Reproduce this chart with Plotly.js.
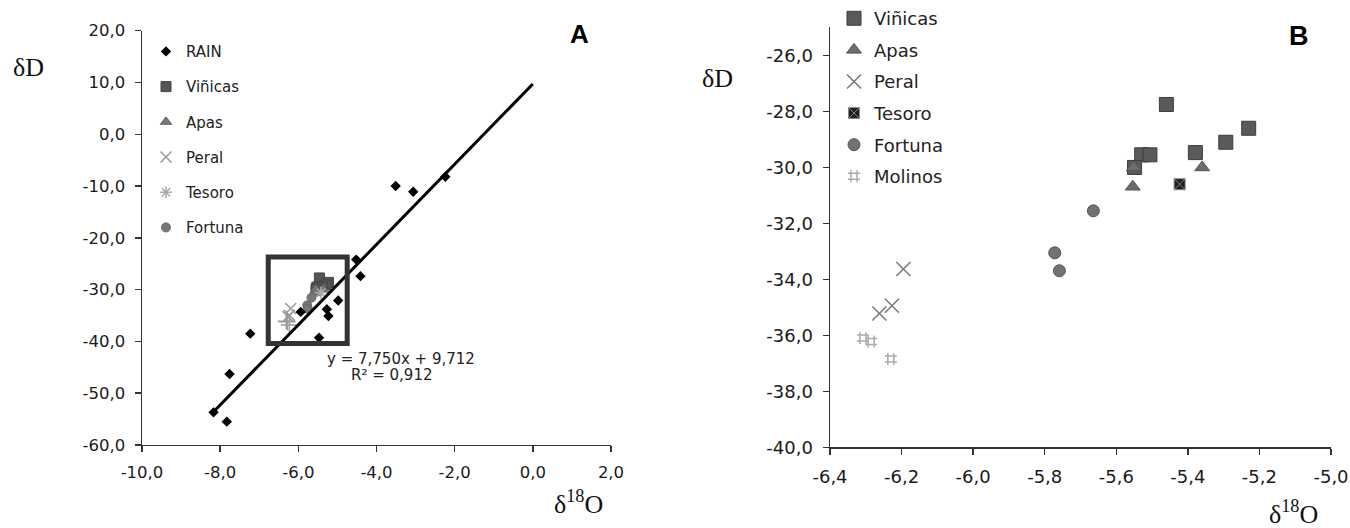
<!DOCTYPE html>
<html>
<head>
<meta charset="utf-8">
<script src="https://cdn.plot.ly/plotly-3.0.1.min.js"></script>
<style>html,body{margin:0;padding:0;background:#fff;}#chart{width:1350px;height:528px;}</style>
</head>
<body>
<div id="chart"></div>
<script>
// ---------- data ----------
const rainX = [-8.17, -7.83, -7.76, -7.23, -5.94, -5.47, -5.27, -5.23, -4.98, -4.52, -4.41, -3.51, -3.06, -2.24];
const rainY = [-53.7, -55.5, -46.3, -38.5, -34.3, -39.3, -33.8, -35.1, -32.1, -24.2, -27.4, -10.0, -11.1, -8.2];

const vinX = [-5.46, -5.23, -5.294, -5.379, -5.529, -5.506, -5.549];
const vinY = [-27.75, -28.60, -29.10, -29.47, -29.55, -29.55, -30.00];
const apasX = [-5.551, -5.554, -5.360];
const apasY = [-30.00, -30.69, -30.00];
const peralX = [-6.195, -6.227, -6.262];
const peralY = [-33.63, -34.94, -35.22];
const tesoroX = [-5.423];
const tesoroY = [-30.60];
const fortX = [-5.664, -5.772, -5.759];
const fortY = [-31.55, -33.05, -33.69];
const molX = [-6.308, -6.285, -6.230];
const molY = [-36.09, -36.22, -36.84];

// regression (as printed on the chart)
const slope = 7.750, intercept = 9.712, r2 = 0.912;
const fitX = [-8.2, 0.0];
const fitY = fitX.map(x => slope * x + intercept);

// highlighted region in panel A
const zoomBox = [-6.77, -4.75, -40.4, -23.7];

// ticks
const aXTicks = [-10, -8, -6, -4, -2, 0, 2];
const aXLabels = ['-10,0', '-8,0', '-6,0', '-4,0', '-2,0', '0,0', '2,0'];
const aYTicks = [-60, -50, -40, -30, -20, -10, 0, 10, 20];
const aYLabels = ['-60,0', '-50,0', '-40,0', '-30,0', '-20,0', '-10,0', '0,0', '10,0', '20,0'];
const bXTicks = [-6.4, -6.2, -6.0, -5.8, -5.6, -5.4, -5.2, -5.0];
const bXLabels = ['-6,4', '-6,2', '-6,0', '-5,8', '-5,6', '-5,4', '-5,2', '-5,0'];
const bYTicks = [-40, -38, -36, -34, -32, -30, -28, -26];
const bYLabels = ['-40,0', '-38,0', '-36,0', '-34,0', '-32,0', '-30,0', '-28,0', '-26,0'];

// ---------- helpers ----------
const W = 1350, H = 528;
const px = x => x / W;
const py = y => 1 - y / H;

const traces = [];
// Panel A
traces.push({x: vinX, y: vinY, name: 'Viñicas', mode: 'markers', xaxis: 'x', yaxis: 'y', legend: 'legend', legendgroup: 'a2', legendrank: 2,
  marker: {symbol: 'square', size: 10, color: '#555', line: {color: '#444', width: 1}}});
traces.push({x: apasX, y: apasY, name: 'Apas', mode: 'markers', xaxis: 'x', yaxis: 'y', legend: 'legend', legendgroup: 'a3', legendrank: 3,
  marker: {symbol: 'triangle-up', size: 10, color: '#777', line: {color: '#666', width: 1}}});
traces.push({x: peralX, y: peralY, name: 'Peral', mode: 'markers', xaxis: 'x', yaxis: 'y', legend: 'legend', legendgroup: 'a4', legendrank: 4,
  marker: {symbol: 'x-thin-open', size: 11, color: '#999', line: {color: '#999', width: 1.5}}});
traces.push({x: tesoroX, y: tesoroY, name: 'Tesoro', mode: 'markers', xaxis: 'x', yaxis: 'y', legend: 'legend', legendgroup: 'a5', legendrank: 5,
  marker: {symbol: 'asterisk-open', size: 10, color: '#aaa', line: {color: '#aaa', width: 1.5}}});
traces.push({x: fortX, y: fortY, name: 'Fortuna', mode: 'markers', xaxis: 'x', yaxis: 'y', legend: 'legend', legendgroup: 'a6', legendrank: 6,
  marker: {symbol: 'circle', size: 9, color: '#777', line: {color: '#666', width: 1}}});
traces.push({x: molX, y: molY, name: 'Molinos', mode: 'markers', xaxis: 'x', yaxis: 'y', showlegend: false,
  marker: {symbol: 'cross-thin-open', size: 12, color: '#999', line: {color: '#999', width: 1.5}}});
traces.push({x: fitX, y: fitY, mode: 'lines', xaxis: 'x', yaxis: 'y', showlegend: false, hoverinfo: 'skip',
  line: {color: '#000', width: 3}});
traces.push({x: rainX, y: rainY, name: 'RAIN', mode: 'markers', xaxis: 'x', yaxis: 'y', legend: 'legend', legendgroup: 'a1', legendrank: 1,
  marker: {symbol: 'diamond', size: 8, color: '#000'}});

// Panel B
traces.push({x: vinX, y: vinY, name: 'Viñicas', mode: 'markers', xaxis: 'x2', yaxis: 'y2', legend: 'legend2', legendgroup: 'b1', legendrank: 1,
  marker: {symbol: 'square', size: 14, color: '#5a5a5a', line: {color: '#3c3c3c', width: 1}}});
traces.push({x: apasX, y: apasY, name: 'Apas', mode: 'markers', xaxis: 'x2', yaxis: 'y2', legend: 'legend2', legendgroup: 'b2', legendrank: 2,
  marker: {symbol: 'triangle-up', size: 13, color: '#6c6c6c', line: {color: '#555', width: 1}}});
traces.push({x: peralX, y: peralY, name: 'Peral', mode: 'markers', xaxis: 'x2', yaxis: 'y2', legend: 'legend2', legendgroup: 'b3', legendrank: 3,
  marker: {symbol: 'x-thin-open', size: 14, color: '#777', line: {color: '#777', width: 1.5}}});
traces.push({x: tesoroX, y: tesoroY, name: 'Tesoro', mode: 'markers', xaxis: 'x2', yaxis: 'y2', legend: 'legend2', legendgroup: 'b4', legendrank: 4,
  marker: {symbol: 'square-x', size: 11, color: '#1e1e1e', line: {color: '#888', width: 1}}});
traces.push({x: fortX, y: fortY, name: 'Fortuna', mode: 'markers', xaxis: 'x2', yaxis: 'y2', legend: 'legend2', legendgroup: 'b5', legendrank: 5,
  marker: {symbol: 'circle', size: 12, color: '#727272', line: {color: '#555', width: 1}}});
traces.push({x: molX, y: molY, name: 'Molinos', mode: 'markers', xaxis: 'x2', yaxis: 'y2', legend: 'legend2', legendgroup: 'b6', legendrank: 6,
  marker: {symbol: 'hash-open', size: 12, color: '#aaa', line: {color: '#aaa', width: 1.5}}});

const tickFontA = {family: 'DejaVu Sans', size: 16.5, color: '#1a1a1a'};
const tickFontB = {family: 'DejaVu Sans', size: 18, color: '#1a1a1a'};
const axisBase = {showline: true, linecolor: '#333', linewidth: 1.5, ticks: 'outside', ticklen: 6, tickwidth: 1.5,
  tickcolor: '#333', showgrid: false, zeroline: false, tickmode: 'array', ticklabelstandoff: 6, fixedrange: true};

const layout = {
  width: W, height: H,
  margin: {l: 0, r: 0, t: 0, b: 0},
  paper_bgcolor: '#fff', plot_bgcolor: 'rgba(0,0,0,0)',
  xaxis: Object.assign({}, axisBase, {domain: [px(142), px(611)], range: [-10, 2], tickvals: aXTicks, ticktext: aXLabels, tickfont: tickFontA, anchor: 'y'}),
  yaxis: Object.assign({}, axisBase, {domain: [py(444), py(25)], range: [-60, 20], tickvals: aYTicks, ticktext: aYLabels, tickfont: tickFontA, anchor: 'x'}),
  xaxis2: Object.assign({}, axisBase, {domain: [px(830), px(1331)], range: [-6.4, -5.0], tickvals: bXTicks, ticktext: bXLabels, tickfont: tickFontB, anchor: 'y2'}),
  yaxis2: Object.assign({}, axisBase, {domain: [py(446.5), py(21.7)], range: [-40, -25], tickvals: bYTicks, ticktext: bYLabels, tickfont: tickFontB, anchor: 'x2'}),
  legend: {x: px(146), xanchor: 'left', y: py(29.5), yanchor: 'top', bgcolor: 'rgba(0,0,0,0)', borderwidth: 0,
    font: {family: 'DejaVu Sans', size: 15, color: '#222'}, traceorder: 'grouped', tracegroupgap: 12.7},
  legend2: {x: px(834), xanchor: 'left', y: py(-6), yanchor: 'top', bgcolor: 'rgba(0,0,0,0)', borderwidth: 0,
    font: {family: 'DejaVu Sans', size: 18, color: '#222'}, traceorder: 'grouped', tracegroupgap: 5.2},
  showlegend: true,
  shapes: [
    {type: 'rect', xref: 'x', yref: 'y', x0: zoomBox[0], x1: zoomBox[1], y0: zoomBox[2], y1: zoomBox[3],
      line: {color: '#333', width: 5}, fillcolor: 'rgba(0,0,0,0)', layer: 'above'}
  ],
  annotations: [
    {xref: 'paper', yref: 'paper', x: px(401), y: py(357), text: 'y = 7,750x + 9,712', showarrow: false,
      font: {family: 'DejaVu Sans', size: 15, color: '#222'}, xanchor: 'center', yanchor: 'middle'},
    {xref: 'paper', yref: 'paper', x: px(391), y: py(373), text: 'R² = ' + String(r2).replace('.', ','), showarrow: false,
      font: {family: 'DejaVu Sans', size: 15, color: '#222'}, xanchor: 'center', yanchor: 'middle'},
    {xref: 'paper', yref: 'paper', x: px(28), y: py(62), text: 'δD', showarrow: false,
      font: {family: 'Liberation Serif', size: 26, color: '#111'}, xanchor: 'center', yanchor: 'middle'},
    {xref: 'paper', yref: 'paper', x: px(578), y: py(502), text: 'δ<sup>18</sup>O', showarrow: false,
      font: {family: 'Liberation Serif', size: 26, color: '#111'}, xanchor: 'center', yanchor: 'middle'},
    {xref: 'paper', yref: 'paper', x: px(579), y: py(28), text: '<b>A</b>', showarrow: false,
      font: {family: 'Liberation Sans', size: 26, color: '#000'}, xanchor: 'center', yanchor: 'middle'},
    {xref: 'paper', yref: 'paper', x: px(718), y: py(73), text: 'δD', showarrow: false,
      font: {family: 'Liberation Serif', size: 26, color: '#111'}, xanchor: 'center', yanchor: 'middle'},
    {xref: 'paper', yref: 'paper', x: px(1293), y: py(512), text: 'δ<sup>18</sup>O', showarrow: false,
      font: {family: 'Liberation Serif', size: 26, color: '#111'}, xanchor: 'center', yanchor: 'middle'},
    {xref: 'paper', yref: 'paper', x: px(1299), y: py(30), text: '<b>B</b>', showarrow: false,
      font: {family: 'Liberation Sans', size: 27, color: '#000'}, xanchor: 'center', yanchor: 'middle'}
  ]
};

Plotly.newPlot('chart', traces, layout, {displayModeBar: false, staticPlot: true});
</script>
</body>
</html>
